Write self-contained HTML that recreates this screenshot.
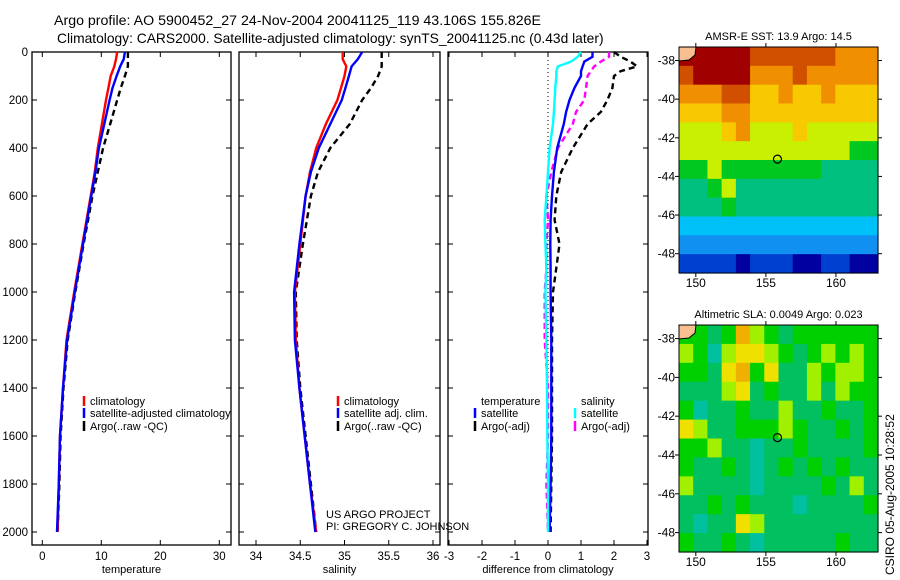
<!DOCTYPE html>
<html><head><meta charset="utf-8"><style>
body{margin:0;background:#fff;}
svg{display:block;font-family:"Liberation Sans",sans-serif;}
</style></head><body>
<svg id="fig" width="900" height="580" viewBox="0 0 900 580" xmlns="http://www.w3.org/2000/svg">
<rect width="900" height="580" fill="#fff"/>
<text x="54" y="25" font-size="14.2">Argo profile: AO 5900452_27 24-Nov-2004 20041125_119 43.106S 155.826E</text>
<text x="57" y="43" font-size="13.8">Climatology: CARS2000. Satellite-adjusted climatology: synTS_20041125.nc (0.43d later)</text>
<g id="plots"></g>
<text transform="translate(894,575) rotate(-90)" font-size="12">CSIRO 05-Aug-2005 10:28:52</text>
</svg>
<script>
// ---- profile data ----
const depthT = [0,30,60,100,150,200,300,400,500,600,800,1000,1200,1400,1600,1800,2000];
const tempClim = [12.7,12.5,12.2,11.6,11.2,10.8,10.1,9.4,8.9,8.2,6.8,5.4,4.1,3.5,3.0,2.8,2.6];
const tempSat  = [14.0,13.8,13.2,12.6,11.9,11.4,10.5,9.6,9.0,8.3,6.9,5.5,4.2,3.5,3.0,2.8,2.5];
const tempArgo = [14.5,14.5,14.5,14.0,13.3,12.7,11.5,10.3,9.4,8.5,7.0,5.6,4.3,3.6,3.1,2.9,2.6];
const depthS = [0,30,60,100,150,200,300,400,500,600,800,1000,1200,1400,1600,1800,2000];
const salClim = [34.98,34.98,35.02,35.00,34.96,34.92,34.79,34.68,34.61,34.56,34.50,34.44,34.45,34.49,34.55,34.61,34.68];
const salSat  = [35.20,35.15,35.08,35.05,35.01,34.97,34.84,34.71,34.62,34.56,34.49,34.43,34.44,34.49,34.55,34.61,34.67];
const salArgo = [35.42,35.42,35.42,35.38,35.30,35.20,35.06,34.84,34.70,34.62,34.53,34.45,34.46,34.50,34.56,34.62,34.68];
const depthD = [0,20,40,60,80,100,150,200,250,300,400,500,600,700,800,900,1000,1200,1400,1600,1800,2000];
const dTsat  = [1.35,1.35,1.1,1.05,1.0,1.0,0.8,0.65,0.55,0.48,0.28,0.18,0.12,0.08,0.07,0.08,0.08,0.10,0.10,0.10,0.08,0.05];
const dTargo = [2.0,2.2,2.5,2.7,2.2,2.0,1.95,1.8,1.6,1.2,0.75,0.4,0.25,0.2,0.35,0.25,0.15,0.12,0.12,0.12,0.10,0.08];
const dSsat  = [1.0,0.9,0.7,0.3,0.25,0.25,0.22,0.2,0.18,0.15,0.05,0.0,-0.05,-0.1,-0.08,-0.05,-0.08,-0.05,-0.03,-0.02,0.0,0.0];
const dSargo = [1.85,1.85,1.6,1.4,1.3,1.2,1.15,1.1,0.85,0.75,0.3,0.1,-0.05,0.0,-0.05,-0.05,-0.1,-0.1,0.0,0.0,-0.05,0.0];
const depthTicks = [0,200,400,600,800,1000,1200,1400,1600,1800,2000];
const tempTicks = [0,10,20,30];
const salTicks = [34,34.5,35,35.5,36];
const salTickLabels = ["34","34.5","35","35.5","36"];
const diffTicks = [-3,-2,-1,0,1,2,3];
// ---- map data (normalized colour index) ----
const sstGrid = [
[10,10,10,10,10,9,9,9,9,9,9,8,8,8],
[9,10,10,10,10,8,8,8,9,8,8,8,8,8],
[8,8,8,9,9,7,7,8,7,7,8,7,7,7],
[7,7,7,8,8,7,7,7,7,7,7,7,7,7],
[6,6,6,7,8,6,6,6,7,6,6,6,6,6],
[6,6,6,6,6,6,6,6,6,6,6,6,5,5],
[5,5,6,5,5,5,5,5,5,5,4,4,4,4],
[4,4,5,6,4,4,4,4,4,4,4,4,4,4],
[4,4,4,5,4,4,4,4,4,4,4,4,4,4],
[3,3,3,3,3,3,3,3,3,3,3,3,3,3],
[2,2,2,2,2,2,2,2,2,2,2,2,2,2],
[1,1,1,1,0,1,1,1,0,0,1,1,0,0]];
const slaGrid = [
[2,2,1,2,5,3,2,1,2,2,2,2,2,2],
[3,2,0,3,4,4,3,2,1,2,3,2,3,2],
[2,2,1,4,5,2,4,1,1,3,2,3,3,2],
[1,1,1,3,4,1,2,1,1,3,1,3,2,2],
[2,0,1,1,2,1,1,3,1,1,2,1,1,2],
[4,3,1,1,2,2,2,3,2,1,1,2,1,2],
[2,2,3,1,1,0,1,1,2,1,1,1,1,2],
[2,1,1,2,1,0,1,2,1,2,1,2,1,1],
[3,1,1,1,1,0,1,1,1,1,2,1,3,1],
[1,1,2,1,2,1,1,1,0,1,1,1,1,2],
[1,0,1,1,4,3,1,1,1,1,1,1,1,1],
[2,1,1,2,1,0,1,1,1,1,1,2,1,1]];
const lonTicks = [150,155,160];
const latTicks = [-38,-40,-42,-44,-46,-48];
const argoLon = 155.826, argoLat = -43.106;

const NS="http://www.w3.org/2000/svg";
const root=document.getElementById('plots');
function mk(tag,attrs,parent){const e=document.createElementNS(NS,tag);for(const k in attrs)e.setAttribute(k,attrs[k]);(parent||root).appendChild(e);return e;}
function txt(x,y,s,size,anchor,parent){const t=mk('text',{x:x,y:y,'font-size':size,'text-anchor':anchor||'start'},parent);t.textContent=s;return t;}

const top0=52, bot0=532, axBot=545;
const yD=d=>top0+(bot0-top0)*d/2000;

function panel(name,x0,x1,xs,ticks,labels,title,showDepth){
  const g=mk('g',{});
  
  
  mk('rect',{x:x0,y:top0,width:x1-x0,height:axBot-top0,fill:'none',stroke:'#000','stroke-width':1.3},g);
  depthTicks.forEach(d=>{
    mk('line',{x1:x0,x2:x0+5,y1:yD(d),y2:yD(d),stroke:'#000'},g);
    mk('line',{x1:x1-5,x2:x1,y1:yD(d),y2:yD(d),stroke:'#000'},g);
    if(showDepth){const t=txt(x0-4,yD(d)+4,String(d),11.5,'end',g);}
  });
  ticks.forEach((v,i)=>{
    mk('line',{x1:xs(v),x2:xs(v),y1:top0,y2:top0+5,stroke:'#000'},g);
    mk('line',{x1:xs(v),x2:xs(v),y1:axBot,y2:axBot-5,stroke:'#000'},g);
    const t=txt(xs(v),560,labels[i],11.5,'middle',g);
    
    
  });
  const at=txt((x0+x1)/2,573,title,11,'middle',g);
  
  
  return g;
}
function line(g,xs,vals,depths,color,dash,name,w){
  const pts=vals.map((v,i)=>xs(v).toFixed(1)+','+yD(depths[i]).toFixed(1)).join(' ');
  const p=mk('polyline',{points:pts,fill:'none',stroke:color,'stroke-width':w||2.4,'stroke-dasharray':dash||'none'},g);
  
  
}
function legend(g,x,y,color,label){
  mk('line',{x1:x,x2:x,y1:y-9,y2:y+1,stroke:color,'stroke-width':2.5},g);
  const t=txt(x+6,y,label,11,'start',g);
  
  
}

// Temperature panel
const xT=v=>42.3+5.9*v;
const gT=panel('temperature-panel',32,231,xT,tempTicks,tempTicks.map(String),'temperature',true);
line(gT,xT,tempArgo,depthT,'#000','6,4','temp-argo-line');
line(gT,xT,tempClim,depthT,'#f00',null,'temp-climatology-line');
line(gT,xT,tempSat,depthT,'#00f',null,'temp-satellite-line');
legend(gT,84,405,'#f00','climatology');
legend(gT,84,417,'#00f','satellite-adjusted climatology');
legend(gT,84,430,'#000','Argo(..raw -QC)');

// Salinity panel
const xS=v=>256+88.5*(v-34);
const gS=panel('salinity-panel',239,440,xS,salTicks,salTickLabels,'salinity',false);
line(gS,xS,salArgo,depthS,'#000','6,4','sal-argo-line');
line(gS,xS,salClim,depthS,'#f00',null,'sal-climatology-line');
line(gS,xS,salSat,depthS,'#00f',null,'sal-satellite-line');
legend(gS,338,405,'#f00','climatology');
legend(gS,338,417,'#00f','satellite adj. clim.');
legend(gS,338,430,'#000','Argo(..raw -QC)');
const c1=txt(326,518,'US ARGO PROJECT',11,'start',gS);


const c2=txt(326,530,'PI: GREGORY C. JOHNSON',11,'start',gS);



// Difference panel
const xDf=v=>548+33*v;
const gD=panel('difference-panel',448,648,xDf,diffTicks,diffTicks.map(String),'difference from climatology',false);
mk('line',{x1:xDf(0),x2:xDf(0),y1:top0,y2:bot0,stroke:'#000','stroke-dasharray':'1,3'},gD);
line(gD,xDf,dTargo,depthD,'#000','6,4','diff-temp-argo-line');
line(gD,xDf,dSargo,depthD,'#f0f','6,4','diff-sal-argo-line');
line(gD,xDf,dTsat,depthD,'#00f',null,'diff-temp-satellite-line');
line(gD,xDf,dSsat,depthD,'#0ff',null,'diff-sal-satellite-line');
const lt=txt(481,405,'temperature',11,'start',gD);
const ls=txt(581,405,'salinity',11,'start',gD);
legend(gD,475,417,'#00f','satellite');
legend(gD,475,430,'#000','Argo(-adj)');
legend(gD,575,417,'#0ff','satellite');
legend(gD,575,430,'#f0f','Argo(-adj)');

// Maps
const sstColors=['#0000a0','#0040d0','#1090f0','#00c0f8','#00c080','#00c820','#c8f000','#f8c800','#f09000','#d05000','#a00000'];
const slaColors=['#00c0a0','#00c060','#00d000','#a0f000','#f0e000','#f0b000'];
function map(name,top,bottom,grid,colors,title){
  const g=mk('g',{});
  
  
  const L=679,R=878,lon0=148.8,lon1=163.0,lat0=-37.3,lat1=-49.0;
  const xm=lo=>L+(R-L)*(lo-lon0)/(lon1-lon0);
  const ym=la=>top+(bottom-top)*(la-lat0)/(lat1-lat0);
  const rows=grid.length, cols=grid[0].length;
  const cw=(R-L)/cols, ch=(bottom-top)/rows;
  grid.forEach((row,r)=>row.forEach((v,c)=>{
    const cell=mk('rect',{x:L+c*cw,y:top+r*ch,width:cw+0.6,height:ch+0.6,fill:colors[v]},g);
    
    
  }));
  mk('path',{d:`M${L},${top} L${L+17},${top} L${L+16},${top+8} L${L+10},${top+13} L${L},${top+14} Z`,fill:'#f8c090',stroke:'#000','stroke-width':1},g);
  mk('rect',{x:L,y:top,width:R-L,height:bottom-top,fill:'none',stroke:'#000','stroke-width':1},g);
  lonTicks.forEach(lo=>{
    mk('line',{x1:xm(lo),x2:xm(lo),y1:bottom,y2:bottom+4,stroke:'#000'},g);
    mk('line',{x1:xm(lo),x2:xm(lo),y1:top,y2:top-4,stroke:'#000'},g);
    const t=txt(xm(lo),bottom+14,String(lo),12,'middle',g);
    
  });
  latTicks.forEach(la=>{
    mk('line',{x1:L-4,x2:L,y1:ym(la),y2:ym(la),stroke:'#000'},g);
    mk('line',{x1:R,x2:R+4,y1:ym(la),y2:ym(la),stroke:'#000'},g);
    const t=txt(L-4,ym(la)+4,String(la),12,'end',g);
    
  });
  const c=mk('circle',{cx:xm(argoLon),cy:ym(argoLat),r:4,fill:'none',stroke:'#000','stroke-width':1.2},g);
  
  
  const t=txt((L+R)/2,top-7,title,11,'middle',g);
  
}
map('sst-map',47,273,sstGrid,sstColors,'AMSR-E SST: 13.9 Argo: 14.5');
map('sla-map',325,552,slaGrid,slaColors,'Altimetric SLA: 0.0049 Argo: 0.023');
</script>
</body></html>
